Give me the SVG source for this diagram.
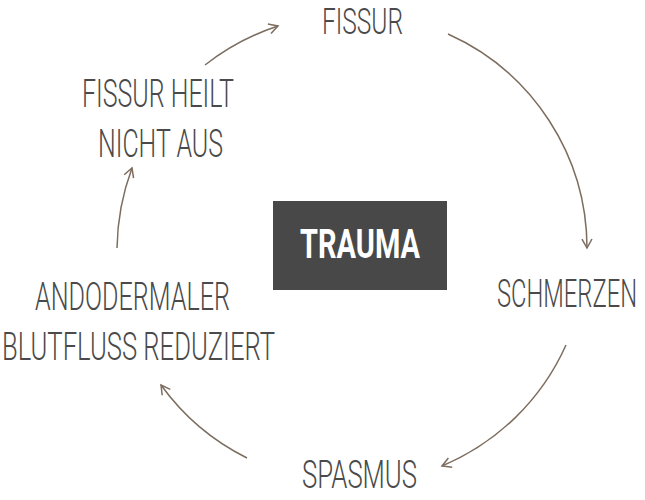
<svg xmlns="http://www.w3.org/2000/svg" width="645" height="500" viewBox="0 0 645 500">
<style>
.lbl{font-family:Roboto,"Liberation Sans",sans-serif;font-weight:300;font-size:38px;fill:#4a4a4a}
.conn{fill:none;stroke:#7d6d5f;stroke-width:1.5}
.ttl{font-family:Roboto,"Liberation Sans",sans-serif;font-weight:700;font-size:40px;fill:#ffffff}
</style>
<defs>
<marker id="ah" viewBox="0 0 12 12" refX="10" refY="6" markerWidth="12" markerHeight="12" markerUnits="userSpaceOnUse" orient="auto">
<path d="M1,1 L10,6 L1,11" fill="none" stroke="#7d6d5f" stroke-width="1.5"/>
</marker>
</defs>
<g id="connectors">
<path class="conn" marker-end="url(#ah)" d="M448,34 A235,235 0 0 1 587,248"/>
<path class="conn" marker-end="url(#ah)" d="M566,345 A235,235 0 0 1 442,466"/>
<path class="conn" marker-end="url(#ah)" d="M247,458 A235,235 0 0 1 161,385"/>
<path class="conn" marker-end="url(#ah)" d="M117,248 A240,240 0 0 1 132,168"/>
<path class="conn" marker-end="url(#ah)" d="M205,65 A240,240 0 0 1 278,26"/>
</g>
<g id="trauma">
<rect x="273" y="201" width="174" height="89" fill="#484848"/>
<text class="ttl" x="300" y="258" textLength="120" lengthAdjust="spacingAndGlyphs">TRAUMA</text>
</g>
<g id="fissur">
<text class="lbl" x="322" y="34" style="font-size:36px" textLength="81" lengthAdjust="spacingAndGlyphs">FISSUR</text>
</g>
<g id="schmerzen">
<text class="lbl" transform="translate(497,307) scale(0.7,1)" x="0" y="0" textLength="200" lengthAdjust="spacingAndGlyphs">SCHMERZEN</text>
</g>
<g id="spasmus">
<text class="lbl" x="302" y="488" textLength="115" lengthAdjust="spacingAndGlyphs">SPASMUS</text>
</g>
<g id="blutfluss">
<text class="lbl" x="35" y="310" textLength="195" lengthAdjust="spacingAndGlyphs">ANDODERMALER</text>
<text class="lbl" x="2" y="360" textLength="273" lengthAdjust="spacingAndGlyphs">BLUTFLUSS REDUZIERT</text>
</g>
<g id="heilt">
<text class="lbl" x="82" y="107" textLength="152" lengthAdjust="spacingAndGlyphs">FISSUR HEILT</text>
<text class="lbl" x="98" y="157" textLength="125" lengthAdjust="spacingAndGlyphs">NICHT AUS</text>
</g>
</svg>
